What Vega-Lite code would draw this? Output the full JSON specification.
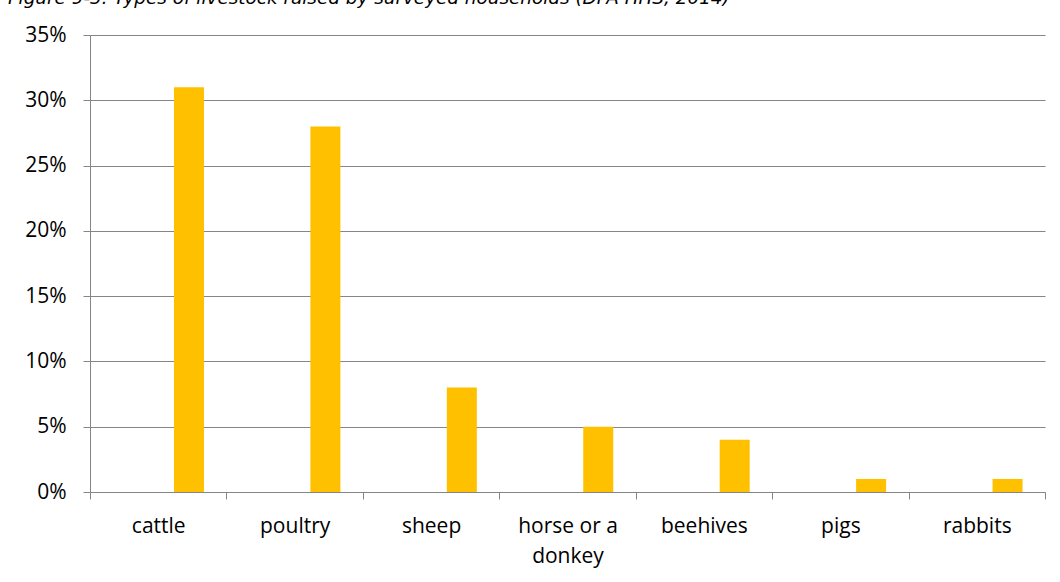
{
  "$schema": "https://vega.github.io/schema/vega-lite/v6.json",
  "autosize": "none",
  "width": 955,
  "height": 457,
  "padding": {"left": 90, "top": 35, "right": 15, "bottom": 90},
  "background": "white",
  "title": {
    "text": "Figure 9-3: Types of livestock raised by surveyed households (DFA HHS, 2014)",
    "anchor": "start",
    "frame": "group",
    "dx": -82,
    "offset": 2,
    "baseline": "alphabetic",
    "font": "DejaVu Sans",
    "fontStyle": "italic",
    "fontWeight": "normal",
    "fontSize": 18.4,
    "color": "#000000"
  },
  "data": {
    "values": [
      {"livestock": "cattle", "series": "households", "share": 0.31},
      {"livestock": "poultry", "series": "households", "share": 0.28},
      {"livestock": "sheep", "series": "households", "share": 0.08},
      {"livestock": "horse or a donkey", "series": "households", "share": 0.05},
      {"livestock": "beehives", "series": "households", "share": 0.04},
      {"livestock": "pigs", "series": "households", "share": 0.01},
      {"livestock": "rabbits", "series": "households", "share": 0.01}
    ]
  },
  "mark": {"type": "bar", "color": "#FFC000"},
  "encoding": {
    "x": {
      "field": "livestock",
      "type": "nominal",
      "sort": null,
      "scale": {"paddingInner": 0, "paddingOuter": 0},
      "axis": {
        "title": null,
        "labelAngle": 0,
        "labelFont": "Open Sans",
        "labelFontSize": 21,
        "labelColor": "#000000",
        "labelPadding": 16,
        "labelLineHeight": 30,
        "labelExpr": "datum.label == 'horse or a donkey' ? ['horse or a', 'donkey'] : datum.label",
        "tickBand": "extent",
        "tickSize": 7,
        "tickColor": "#868686",
        "domainColor": "#868686",
        "grid": false
      }
    },
    "xOffset": {
      "field": "series",
      "type": "nominal",
      "scale": {"paddingInner": 0.436, "paddingOuter": 1, "align": 0.789}
    },
    "y": {
      "field": "share",
      "type": "quantitative",
      "scale": {"domain": [0, 0.35], "nice": false},
      "axis": {
        "title": null,
        "values": [0, 0.05, 0.1, 0.15, 0.2, 0.25, 0.3, 0.35],
        "format": ".0%",
        "labelFont": "Open Sans",
        "labelFontSize": 21,
        "labelColor": "#000000",
        "labelPadding": 17,
        "tickSize": 7,
        "tickColor": "#868686",
        "domainColor": "#868686",
        "gridColor": "#868686",
        "grid": true
      }
    }
  },
  "config": {
    "view": {"stroke": null},
    "axis": {"domainWidth": 1, "tickWidth": 1, "gridWidth": 1}
  }
}
